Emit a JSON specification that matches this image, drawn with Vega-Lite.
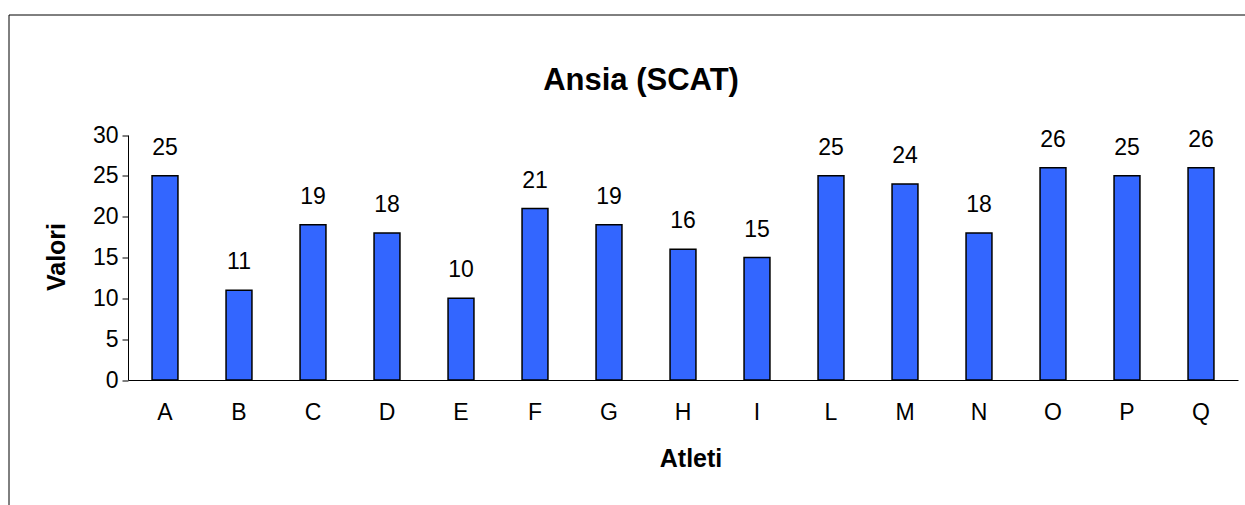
{
  "$schema": "https://vega.github.io/schema/vega-lite/v6.json",
  "autosize": {"type": "none"},
  "padding": {"left": 8.5, "top": 14.5, "right": 0, "bottom": 0},
  "width": 1240,
  "height": 495,
  "background": "white",
  "title": {
    "text": "Ansia (SCAT)",
    "font": "Liberation Sans",
    "fontSize": 31,
    "fontWeight": "bold",
    "color": "black",
    "anchor": "middle",
    "baseline": "middle",
    "offset": -97,
    "dx": 12.5
  },
  "config": {
    "view": {"stroke": "black", "strokeWidth": 1},
    "font": "Liberation Sans"
  },
  "data": {
    "values": [
      {"atleta": "A", "valore": 25},
      {"atleta": "B", "valore": 11},
      {"atleta": "C", "valore": 19},
      {"atleta": "D", "valore": 18},
      {"atleta": "E", "valore": 10},
      {"atleta": "F", "valore": 21},
      {"atleta": "G", "valore": 19},
      {"atleta": "H", "valore": 16},
      {"atleta": "I", "valore": 15},
      {"atleta": "L", "valore": 25},
      {"atleta": "M", "valore": 24},
      {"atleta": "N", "valore": 18},
      {"atleta": "O", "valore": 26},
      {"atleta": "P", "valore": 25},
      {"atleta": "Q", "valore": 26}
    ]
  },
  "encoding": {
    "x": {
      "field": "atleta",
      "type": "nominal",
      "sort": null,
      "scale": {"range": [119.5, 1229.5], "paddingInner": 0.65, "paddingOuter": 0.325},
      "axis": {
        "title": "Atleti",
        "titleFont": "Liberation Sans",
        "titleFontSize": 25,
        "titleFontWeight": "bold",
        "titleColor": "black",
        "titleX": 682,
        "titleY": 78,
        "titleBaseline": "middle",
        "labelAngle": 0,
        "labelFont": "Liberation Sans",
        "labelFontSize": 23,
        "labelColor": "black",
        "labelBaseline": "middle",
        "labelPadding": 32,
        "ticks": false,
        "tickSize": 0,
        "domainColor": "black",
        "domainWidth": 1,
        "offset": -129.5,
        "grid": false
      }
    },
    "y": {
      "field": "valore",
      "type": "quantitative",
      "scale": {"domain": [0, 30], "range": [365.5, 120.5], "nice": false},
      "axis": {
        "title": "Valori",
        "titleFont": "Liberation Sans",
        "titleFontSize": 25,
        "titleFontWeight": "bold",
        "titleColor": "black",
        "titleX": -71.5,
        "titleY": 242,
        "titleBaseline": "middle",
        "titleAngle": -90,
        "values": [0, 5, 10, 15, 20, 25, 30],
        "labelFont": "Liberation Sans",
        "labelFontSize": 23,
        "labelColor": "black",
        "labelPadding": 4,
        "tickSize": 6,
        "tickColor": "black",
        "domainColor": "black",
        "offset": -119.5,
        "grid": false
      }
    }
  },
  "layer": [
    {
      "mark": {"type": "bar", "fill": "#3366FF", "stroke": "black", "strokeWidth": 1.5}
    },
    {
      "mark": {
        "type": "text",
        "font": "Liberation Sans",
        "fontSize": 23,
        "color": "black",
        "baseline": "middle",
        "dy": -28
      },
      "encoding": {"text": {"field": "valore", "type": "quantitative"}}
    }
  ]
}
